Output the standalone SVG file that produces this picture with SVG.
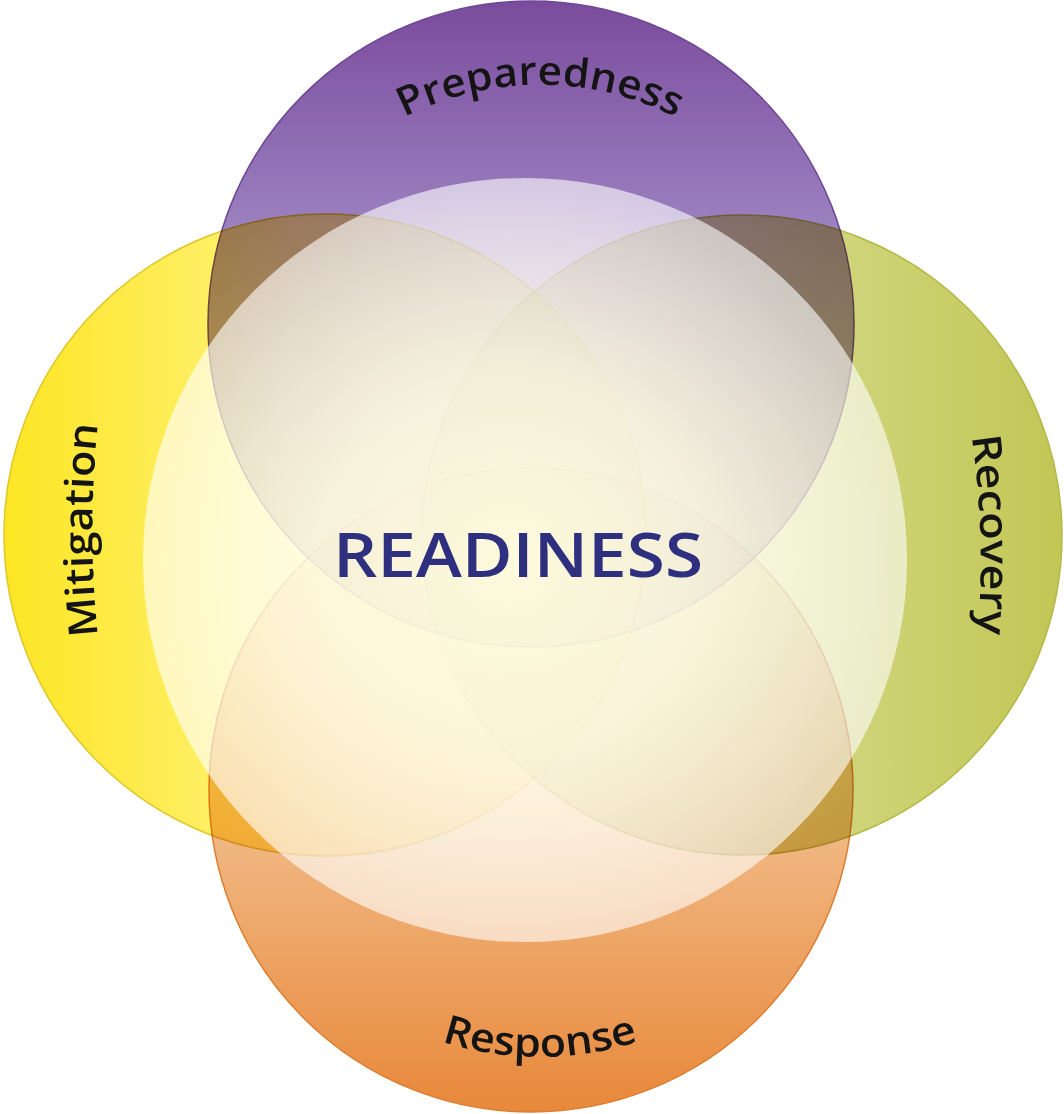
<svg xmlns="http://www.w3.org/2000/svg" width="1064" height="1114" viewBox="0 0 1064 1114">
  <defs>
    <linearGradient id="gPurple" x1="0" y1="0" x2="0" y2="1">
      <stop offset="0" stop-color="#68328f"/>
      <stop offset="0.35" stop-color="#8d6fb7"/>
      <stop offset="1" stop-color="#c4b3da"/>
    </linearGradient>
    <linearGradient id="gYellow" x1="0" y1="0" x2="1" y2="0">
      <stop offset="0" stop-color="#fde624"/>
      <stop offset="0.45" stop-color="#fff27c"/>
      <stop offset="1" stop-color="#fff8b4"/>
    </linearGradient>
    <linearGradient id="gGreen" x1="0" y1="0" x2="1" y2="0">
      <stop offset="0" stop-color="#e6eab6"/>
      <stop offset="0.5" stop-color="#d6db8a"/>
      <stop offset="1" stop-color="#c2c655"/>
    </linearGradient>
    <linearGradient id="gOrange" x1="0" y1="0" x2="0" y2="1">
      <stop offset="0" stop-color="#fbe4ce"/>
      <stop offset="0.55" stop-color="#f1ba86"/>
      <stop offset="1" stop-color="#e8883a"/>
    </linearGradient>
    <radialGradient id="gCenter" cx="0.48" cy="0.5" r="0.5">
      <stop offset="0" stop-color="#fffde0" stop-opacity="0.98"/>
      <stop offset="0.5" stop-color="#fffdea" stop-opacity="0.88"/>
      <stop offset="1" stop-color="#ffffff" stop-opacity="0.6"/>
    </radialGradient>
    <path id="pPrep" d="M 380 131 A 300 300 0 0 1 700 131"/>
    <path id="pResp" d="M 380 1014 A 320 320 0 0 0 700 1014"/>
    <path id="pMit" d="M 99 645 A 1000 1000 0 0 1 99 415"/>
    <path id="pRec" d="M 970 425 A 900 900 0 0 1 977 645"/>
  </defs>
  <style>
    .ring { mix-blend-mode: multiply; stroke-width: 1.5; }
    .top { opacity: 0.88; }
    .lbl { font-family: "Open Sans", "Lato", "Liberation Sans", sans-serif; font-size: 40px; font-weight: 600; fill: #141414; }
    .title { font-family: "Open Sans", "Lato", "Liberation Sans", sans-serif; font-size: 62px; font-weight: 600; fill: #2e2f7e; }
  </style>
  <rect x="0" y="0" width="1064" height="1114" fill="#ffffff"/>
  <g id="mitigation">
    <circle class="ring" cx="325" cy="535" r="321" fill="url(#gYellow)" stroke="#e0c62a"/>
  </g>
  <g id="recovery">
    <circle class="ring" cx="742" cy="535" r="320" fill="url(#gGreen)" stroke="#b3b948"/>
  </g>
  <g id="response">
    <circle class="ring" cx="531" cy="790" r="322" fill="url(#gOrange)" stroke="#dc7e32"/>
  </g>
  <g id="preparedness">
    <circle class="ring top" cx="531" cy="324" r="323" fill="url(#gPurple)" stroke="#5a2e88"/>
  </g>
  <g id="readiness">
    <circle cx="525" cy="560" r="382" fill="url(#gCenter)"/>
    <text class="title" x="518" y="577" text-anchor="middle" textLength="370" lengthAdjust="spacingAndGlyphs">READINESS</text>
  </g>
  <g id="labels">
    <text class="lbl"><textPath href="#pPrep" startOffset="50%" text-anchor="middle" textLength="282" lengthAdjust="spacingAndGlyphs">Preparedness</textPath></text>
    <text class="lbl"><textPath href="#pResp" startOffset="50%" text-anchor="middle" textLength="200" lengthAdjust="spacingAndGlyphs">Response</textPath></text>
    <text class="lbl"><textPath href="#pMit" startOffset="50%" text-anchor="middle" textLength="212" lengthAdjust="spacingAndGlyphs">Mitigation</textPath></text>
    <text class="lbl"><textPath href="#pRec" startOffset="50%" text-anchor="middle" textLength="198" lengthAdjust="spacingAndGlyphs">Recovery</textPath></text>
  </g>
  <g id="connectors"/>
</svg>
